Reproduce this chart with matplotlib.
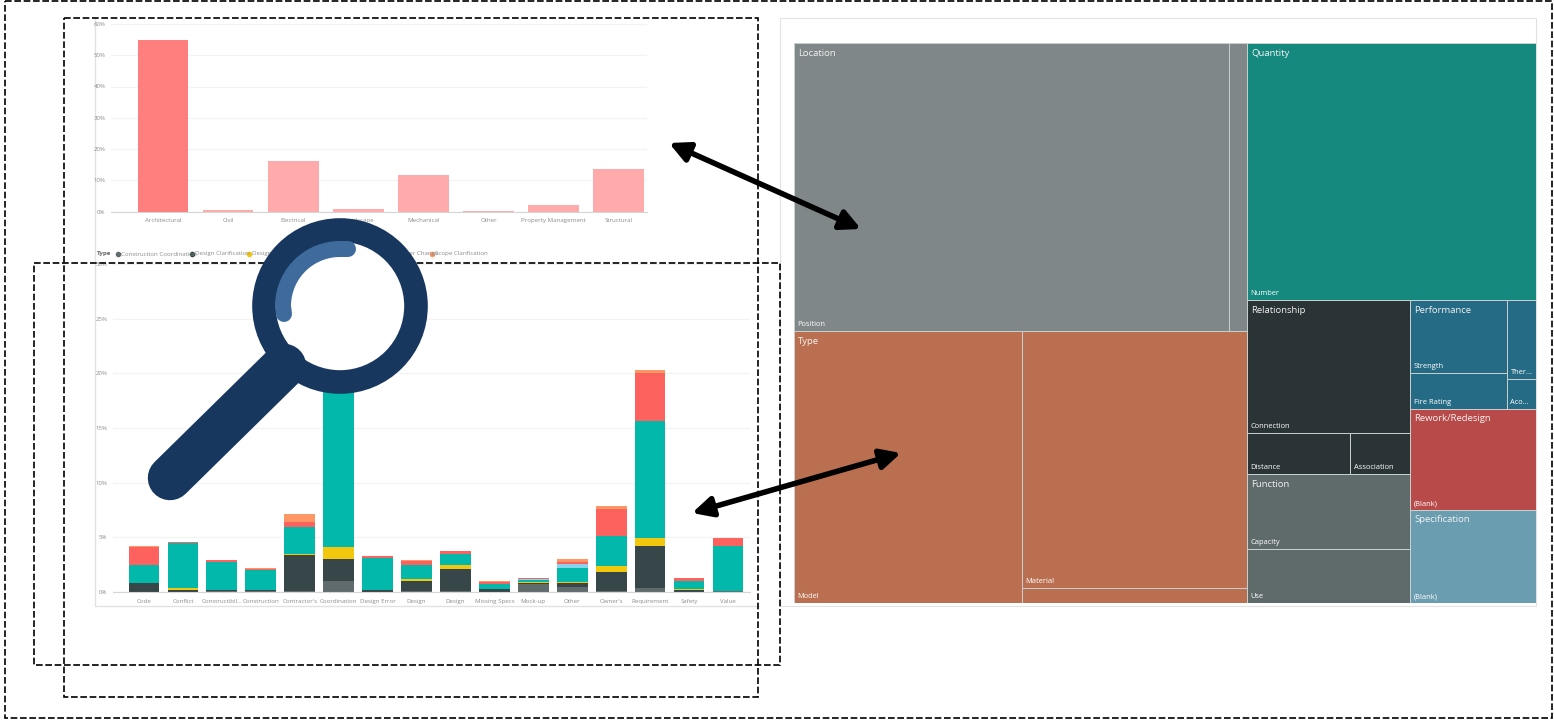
from matplotlib import pyplot as plt
from matplotlib.patches import Rectangle, Circle, Arc
from matplotlib.ticker import PercentFormatter
import numpy as np

W, H = 1554, 721

# discipline chart
disciplines = ["Architectural", "Civil", "Electrical", "Landscape", "Mechanical",
               "Other", "Property Management", "Structural"]
discipline_share = [55.0, 0.4, 16.2, 0.7, 11.8, 0.2, 2.1, 13.5]

# reason chart, stacked by type
reasons = ["Code", "Conflict", "Constructibil...", "Construction", "Contractor's",
           "Coordination", "Design Error", "Design", "Design", "Missing Specs",
           "Mock-up", "Other", "Owner's", "Requirement", "Safety", "Value"]
construction_coord = [0, 0, 0.05, 0.05, 0.1, 1.0, 0, 0.1, 0.1, 0, 0.7, 0.5, 0.1, 0.4, 0, 0.05]
design_clarification = [0.85, 0.2, 0.13, 0.13, 3.25, 2.0, 0.22, 0.95, 2.0, 0.3, 0.12, 0.3, 1.75, 3.8, 0.22, 0.05]
design_other = [0, 0.2, 0, 0, 0.12, 1.13, 0, 0.12, 0.37, 0, 0.1, 0.1, 0.55, 0.73, 0.03, 0]
information = [1.6, 4.05, 2.6, 1.8, 2.47, 20.8, 2.85, 1.3, 1.04, 0.46, 0.2, 1.3, 2.7, 10.75, 0.72, 4.1]
other_type = [0, 0, 0, 0, 0.03, 0, 0, 0, 0, 0, 0.06, 0.4, 0, 0, 0, 0]
owner_change = [1.7, 0.12, 0.15, 0.15, 0.4, 3.0, 0.18, 0.37, 0.24, 0.18, 0.08, 0.1, 2.5, 4.35, 0.27, 0.75]
scope_clarification = [0.02, 0.03, 0, 0.02, 0.8, 0.27, 0, 0.05, 0.03, 0.03, 0, 0.3, 0.27, 0.3, 0.01, 0]

type_names = ["Construction Coordination", "Design Clarification", "Design Verification",
              "Information", "Other", "Owner Change", "Scope Clarification"]
type_colors = ["#5F6B6D", "#374649", "#F2C80F", "#01B8AA", "#8AD4EB", "#FD625E", "#FE9666"]

# treemap leaf sizes, percent of the total area
position, location_rest = 30.15, 1.25
model, material, type_rest = 14.92, 13.92, 0.81
number = 17.87
connection, distance, association = 5.22, 1.02, 0.59
capacity, use = 2.94, 2.12
strength, fire_rating, thermal, acoustic = 1.70, 0.84, 0.55, 0.21
rework_blank = 3.06
specification_blank = 2.82

group_colors = {"Location": "#7F8789", "Quantity": "#16897E", "Type": "#BA6F50",
                "Relationship": "#2A3335", "Performance": "#266B85",
                "Rework/Redesign": "#B94A4A", "Function": "#5F6A6B",
                "Specification": "#6A9DAF"}

font = "Open Sans"
plt.rcParams["font.family"] = [font, "DejaVu Sans"]


def px_axes(fig, left, top, right, bottom, **kw):
    return fig.add_axes([left / W, 1 - bottom / H, (right - left) / W, (bottom - top) / H], **kw)


def style_chart(ax, names, first_center, step, left, right, ymax, ystep):
    ax.set_xlim((left - first_center) / step, (right - first_center) / step)
    ax.set_ylim(0, ymax)
    ax.set_xticks(range(len(names)))
    ax.set_xticklabels(names)
    ax.set_yticks(np.arange(0, ymax + 1, ystep))
    ax.yaxis.set_major_formatter(PercentFormatter(decimals=0))
    ax.tick_params(length=0, labelsize=4.4, labelcolor="#8c8c8c", pad=5)
    ax.tick_params(axis="y", pad=4)
    ax.grid(axis="y", color="#f3f3f3", lw=0.9)
    ax.set_axisbelow(True)
    for side in ["top", "right", "left"]:
        ax.spines[side].set_visible(False)
    ax.spines["bottom"].set_color("#d6d6d6")
    ax.patch.set_alpha(0)


def size(node):
    return node if isinstance(node, (int, float)) else sum(size(n) for n in node[1])


def layout(node, rect, out):
    # node is a leaf size or (direction, children); "h" splits along x, "v" along y
    if isinstance(node, (int, float)):
        out.append(rect)
        return
    x, y, w, h = rect
    total = size(node)
    for child in node[1]:
        frac = size(child) / total
        if node[0] == "h":
            layout(child, (x, y, w * frac, h), out)
            x += w * frac
        else:
            layout(child, (x, y, w, h * frac), out)
            y += h * frac


fig = plt.figure(figsize=(W / 100, H / 100), dpi=100, facecolor="white")

# panel backgrounds
bg = px_axes(fig, 0, 0, W, H)
bg.set_xlim(0, W)
bg.set_ylim(H, 0)
bg.axis("off")
bg.plot([95, 95, 758], [18, 606, 606], color="#e2e2e2", lw=1)
bg.add_patch(Rectangle((780, 18), 756, 588, fc="white", ec="#e2e2e2", lw=0.8))

# discipline share
top = px_axes(fig, 111, 24, 647, 211.5)
colors = ["#FF7F7F"] + ["#FFABAB"] * 7
top.bar(range(len(disciplines)), discipline_share, width=0.78, color=colors)
style_chart(top, disciplines, 163, 65.1, 111, 647, 60, 10)

# stacked reasons
low = px_axes(fig, 113, 264, 750, 592)
stack = [construction_coord, design_clarification, design_other, information,
         other_type, owner_change, scope_clarification]
base = np.zeros(len(reasons))
for vals, name, col in zip(stack, type_names, type_colors):
    low.bar(range(len(reasons)), vals, bottom=base, width=0.79, color=col, label=name)
    base += np.array(vals)
style_chart(low, reasons, 144, 38.93, 113, 750, 30, 5)

# type legend
bg.text(97, 254, "Type", fontsize=4.4, fontweight="bold", color="#666666", va="center")
legend_x = [118, 192, 249, 313, 365, 393, 432]
for lx, name, col in zip(legend_x, type_names, type_colors):
    bg.plot(lx, 254, "o", ms=3, color=col)
    bg.text(lx + 3, 254, name, fontsize=4.4, color="#8c8c8c", va="center")

# treemap
tree = px_axes(fig, 794, 43, 1536, 603)
tree.set_xlim(0, 1)
tree.set_ylim(1, 0)
tree.axis("off")

location = ("h", [position, location_rest])
type_group = ("h", [model, ("v", [material, type_rest])])
relationship = ("v", [connection, ("h", [distance, association])])
function = ("v", [capacity, use])
performance = ("h", [("v", [strength, fire_rating]), ("v", [thermal, acoustic])])
rework = ("v", [rework_blank])
specification = ("v", [specification_blank])
quantity = ("v", [number])

groups = [("Location", location, ["Position", ""]),
          ("Type", type_group, ["Model", "Material", ""]),
          ("Quantity", quantity, ["Number"]),
          ("Relationship", relationship, ["Connection", "Distance", "Association"]),
          ("Function", function, ["Capacity", "Use"]),
          ("Performance", performance, ["Strength", "Fire Rating", "Ther...", "Aco..."]),
          ("Rework/Redesign", rework, ["(Blank)"]),
          ("Specification", specification, ["(Blank)"])]

root = ("h", [("v", [location, type_group]),
              ("v", [quantity, ("h", [("v", [relationship, function]),
                                      ("v", [performance, rework, specification])])])])
group_rects = []
layout(("h", [("v", [1, 1])]), (0, 0, 1, 1), [])


def group_boxes(node, rect):
    # walk the top levels only, stopping at the named groups
    named = [g[1] for g in groups]
    if any(node is n for n in named):
        group_rects.append((node, rect))
        return
    x, y, w, h = rect
    total = size(node)
    for child in node[1]:
        frac = size(child) / total
        if node[0] == "h":
            group_boxes(child, (x, y, w * frac, h))
            x += w * frac
        else:
            group_boxes(child, (x, y, w, h * frac))
            y += h * frac


group_boxes(root, (0, 0, 1, 1))
boxes = {id(n): r for n, r in group_rects}

for title, node, labels in groups:
    gr = boxes[id(node)]
    leaves = []
    layout(node, gr, leaves)
    for (x, y, w, h), label in zip(leaves, labels):
        tree.add_patch(Rectangle((x, y), w, h, fc=group_colors[title],
                                 ec="#c9d0d0", lw=0.7))
        tree.annotate(label, (x, y + h), xytext=(2.5, 2), textcoords="offset points",
                      fontsize=5.4, color="white", va="bottom", ha="left")
    tree.annotate(title, (gr[0], gr[1]), xytext=(2.8, -4), textcoords="offset points",
                  fontsize=6.8, color="#f2f2f2", va="top", ha="left")

# overlay: frames, arrows and the magnifier
over = px_axes(fig, 0, 0, W, H)
over.set_xlim(0, W)
over.set_ylim(H, 0)
over.axis("off")

for x0, y0, x1, y1 in [(5, 1, 1552, 718), (64, 18, 758, 697), (34, 263, 780, 665)]:
    over.add_patch(Rectangle((x0, y0), x1 - x0, y1 - y0, fill=False, ec="black",
                             lw=1.2, ls=(0, (4, 1.6))))

for a, b in [((669, 143), (861, 229)), ((692, 513), (901, 453))]:
    over.annotate("", xy=a, xytext=b,
                  arrowprops=dict(arrowstyle="<|-|>", color="black", lw=4,
                                  mutation_scale=30, shrinkA=0, shrinkB=0))

navy = "#18375F"
over.plot([284, 170], [366, 478], color=navy, lw=32, solid_capstyle="round")
over.add_patch(Circle((340, 306), 76, fc="white", ec=navy, lw=17))
over.add_patch(Arc((340, 306), 114, 114, theta1=182, theta2=272, color="#3F6B9C", lw=11.5))
over.plot([283, 284], [306, 314], color="#3F6B9C", lw=11.5, solid_capstyle="round")
over.plot([340, 348], [249, 249], color="#3F6B9C", lw=11.5, solid_capstyle="round")

fig.savefig("out.png", dpi=100)
